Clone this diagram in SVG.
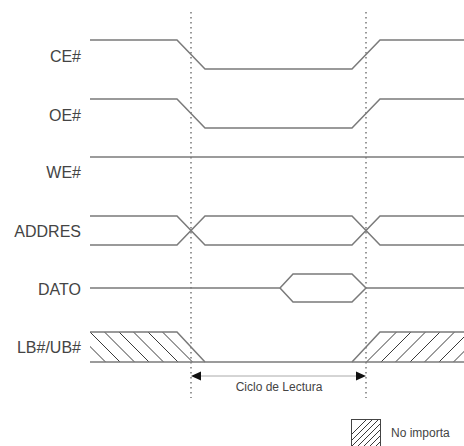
<svg xmlns="http://www.w3.org/2000/svg" width="464" height="446" viewBox="0 0 464 446">
<style>
.sig{fill:none;stroke:#7a7a7a;stroke-width:1.5;stroke-linejoin:miter}
.hat{stroke:#3a3a3a;stroke-width:1}
.dot{stroke:#555;stroke-width:1.2;stroke-dasharray:1.5 3.5}
.lbl{font-family:"Liberation Sans",Arial,sans-serif;font-size:16px;fill:#444;text-anchor:end}
.sm{font-family:"Liberation Sans",Arial,sans-serif;font-size:12px;fill:#444}
</style>
<defs>
<clipPath id="cl"><polygon points="90,332 177,332 205,362 90,362"/></clipPath>
<clipPath id="cr"><polygon points="352,362 380,332 464,332 464,362"/></clipPath>
<clipPath id="cb"><rect x="351" y="419" width="30" height="28"/></clipPath>
</defs>
<rect width="464" height="446" fill="#fff"/>
<g id="connectors">
<line class="dot" x1="191" y1="12" x2="191" y2="398"/>
<line class="dot" x1="366" y1="12" x2="366" y2="398"/>
<line x1="199" y1="376" x2="358" y2="376" stroke="#aaa" stroke-width="1"/>
<polygon points="191,376 201,371.5 201,380.5" fill="#111"/>
<polygon points="366,376 356,371.5 356,380.5" fill="#111"/>
</g>
<g id="CE">
<text class="lbl" x="81" y="62">CE#</text>
<path class="sig" d="M90,40 H177 L205,69 H352 L380,40 H464"/>
</g>
<g id="OE">
<text class="lbl" x="81" y="121">OE#</text>
<path class="sig" d="M90,99 H177 L205,128 H352 L380,99 H464"/>
</g>
<g id="WE">
<text class="lbl" x="81" y="178">WE#</text>
<path class="sig" d="M90,157 H464"/>
</g>
<g id="ADDRES">
<text class="lbl" x="81" y="237">ADDRES</text>
<path class="sig" d="M90,216 H177 L205,245 H352 L380,216 H464"/>
<path class="sig" d="M90,245 H177 L205,216 H352 L380,245 H464"/>
</g>
<g id="DATO">
<text class="lbl" x="81" y="295">DATO</text>
<path class="sig" d="M90,288 H280 L293,274 H352 L366,288 H464"/>
<path class="sig" d="M280,288 L293,302 H352 L366,288"/>
</g>
<g id="LBUB">
<text class="lbl" x="81" y="353">LB#/UB#</text>
<g clip-path="url(#cl)">
<line class="hat" x1="75.5" y1="332" x2="105.5" y2="362"/>
<line class="hat" x1="90" y1="332" x2="120" y2="362"/>
<line class="hat" x1="104.5" y1="332" x2="134.5" y2="362"/>
<line class="hat" x1="119" y1="332" x2="149" y2="362"/>
<line class="hat" x1="133.5" y1="332" x2="163.5" y2="362"/>
<line class="hat" x1="148" y1="332" x2="178" y2="362"/>
<line class="hat" x1="162.5" y1="332" x2="192.5" y2="362"/>
</g>
<g clip-path="url(#cr)">
<line class="hat" x1="366.5" y1="362" x2="396.5" y2="332"/>
<line class="hat" x1="381" y1="362" x2="411" y2="332"/>
<line class="hat" x1="395.5" y1="362" x2="425.5" y2="332"/>
<line class="hat" x1="410" y1="362" x2="440" y2="332"/>
<line class="hat" x1="424.5" y1="362" x2="454.5" y2="332"/>
<line class="hat" x1="439" y1="362" x2="469" y2="332"/>
<line class="hat" x1="453.5" y1="362" x2="483.5" y2="332"/>
</g>
<path class="sig" d="M90,332 H177 L205,362"/>
<path class="sig" d="M90,362 H464"/>
<path class="sig" d="M352,362 L380,332 H464"/>
</g>
<g id="ciclo">
<text class="sm" x="279" y="391" text-anchor="middle">Ciclo de Lectura</text>
</g>
<g id="legend">
<g clip-path="url(#cb)">
<line class="hat" x1="345" y1="447" x2="373" y2="419"/>
<line class="hat" x1="351" y1="447" x2="379" y2="419"/>
<line class="hat" x1="357" y1="447" x2="385" y2="419"/>
<line class="hat" x1="363" y1="447" x2="391" y2="419"/>
<line class="hat" x1="369" y1="447" x2="397" y2="419"/>
<line class="hat" x1="375" y1="447" x2="403" y2="419"/>
<line class="hat" x1="339" y1="447" x2="367" y2="419"/>
</g>
<rect x="351.5" y="419.5" width="29" height="28" fill="none" stroke="#444" stroke-width="1"/>
<text class="sm" x="391" y="437">No importa</text>
</g>
</svg>
